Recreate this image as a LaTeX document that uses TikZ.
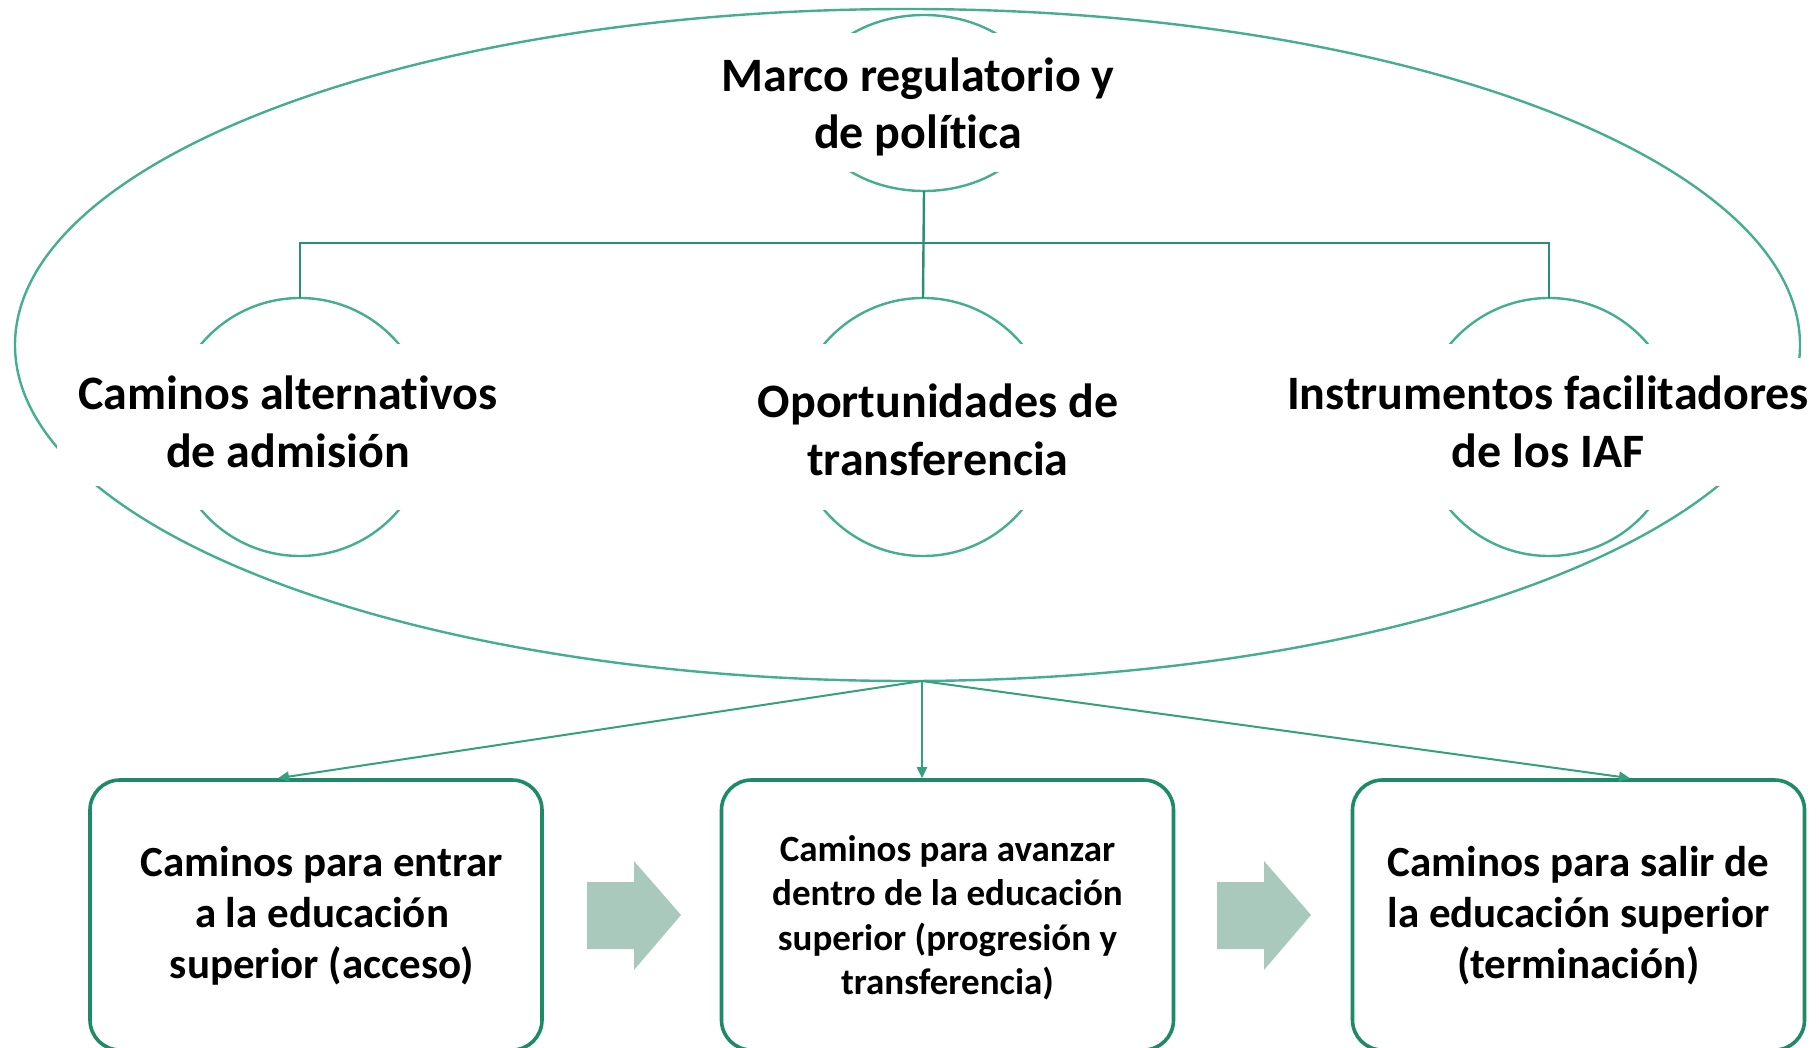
\documentclass[tikz,border=0pt]{standalone}
\usepackage{fontspec}
\setmainfont{Carlito}[Ligatures={NoCommon,NoContextual}]
\usetikzlibrary{arrows.meta,shapes.geometric}
\definecolor{ring}{RGB}{70,174,144}
\definecolor{tree}{RGB}{44,142,114}
\definecolor{boxc}{RGB}{30,138,104}
\definecolor{arrc}{RGB}{52,160,126}
\definecolor{fat}{RGB}{168,201,187}
\tikzset{
  ringline/.style={draw=ring, line width=2.4pt, inner sep=0pt, outer sep=0pt},
  treeline/.style={draw=tree, line width=2.4pt},
  lbl/.style={font=\fontsize{48}{57.5}\selectfont\bfseries, align=center, fill=white, inner xsep=22pt, inner ysep=0pt},
  stagebox/.style={draw=boxc, line width=3.6pt, rounded corners=30pt, fill=white, align=center,
    minimum width=452pt, minimum height=270pt, inner sep=0pt, font=\fontsize{43}{51}\selectfont\bfseries},
  downarr/.style={draw=arrc, line width=2pt, -{Triangle[length=11pt,width=10pt]}},
  fatarrow/.style={fill=fat, draw=none},
  cut/.style={fill=white, draw=none}
}
\begin{document}
\begin{tikzpicture}[x=1pt,y=-1pt]
\useasboundingbox[fill=white] (0,0) rectangle (1819,1048);
% big ellipse
\node[ringline, ellipse, minimum width=1785pt, minimum height=672pt] (big) at (907.5,345) {};
% circles
\node[ringline, ellipse, minimum width=234pt, minimum height=176pt] (c0) at (924,103) {};
\node[ringline, circle, minimum size=258pt] (c1) at (300,427) {};
\node[ringline, circle, minimum size=258pt] (c2) at (923,427) {};
\node[ringline, circle, minimum size=258pt] (c3) at (1549,427) {};
% open the circles at the sides
\fill[cut] ([xshift=-125pt]c0.center |- 0,33) rectangle ([xshift=125pt]c0.center |- 0,172);
\foreach \c in {c1,c2,c3}
  \fill[cut] ([xshift=-135pt,yshift=-83pt]\c.center) rectangle ([xshift=135pt,yshift=83pt]\c.center);
% hierarchy connectors
\coordinate (bar) at (0,243);
\draw[treeline] (c0.south) -- (c2.north);
\draw[treeline] (c1.north) -- (c1.north |- bar) -- (c3.north |- bar) -- (c3.north);
% labels
\node[lbl, fill=none] (t0) at (918,107) {Marco regulatorio y\\de política};
\node[lbl, minimum height=128pt] (t1) at (288,422) {Caminos alternativos\\de admisión};
\node[lbl, minimum height=128pt] (t2) at (938,430) {Oportunidades de\\transferencia};
\node[lbl, minimum height=128pt] (t3) at (1548,422) {Instrumentos facilitadores\\de los IAF};
% stage boxes
\node[stagebox] (b1) at (316,915) {};
\node[stagebox] (b2) at (947.5,915) {};
\node[stagebox] (b3) at (1578.5,915) {};
\node[font=\fontsize{43}{51}\selectfont\bfseries, align=center] (s1) at ([xshift=6pt,yshift=-1pt]b1.center) {Caminos para entrar\\a la educación\\superior (acceso)};
\node[font=\fontsize{37}{44.5}\selectfont\bfseries, align=center] (s2) at ([yshift=-3pt]b2.center) {Caminos para avanzar\\dentro de la educación\\superior (progresión y\\transferencia)};
\node[font=\fontsize{43}{51}\selectfont\bfseries, align=center] (s3) at ([yshift=-1pt]b3.center) {Caminos para salir de\\la educación superior\\(terminación)};
% arrows from ellipse
\coordinate (hub) at (922,681);
\draw[downarr] (hub) -- ([xshift=-38pt]b1.north);
\draw[downarr] (hub) -- (hub |- b2.north);
\draw[downarr] (hub) -- ([xshift=51.5pt]b3.north);
% fat arrows
\fill[fatarrow] (587,882) -- (634,882) -- (634,861) -- (681,915) -- (634,970) -- (634,949) -- (587,949) -- cycle;
\fill[fatarrow] (1217,882) -- (1264,882) -- (1264,861) -- (1311,915) -- (1264,970) -- (1264,949) -- (1217,949) -- cycle;
\end{tikzpicture}
\end{document}
